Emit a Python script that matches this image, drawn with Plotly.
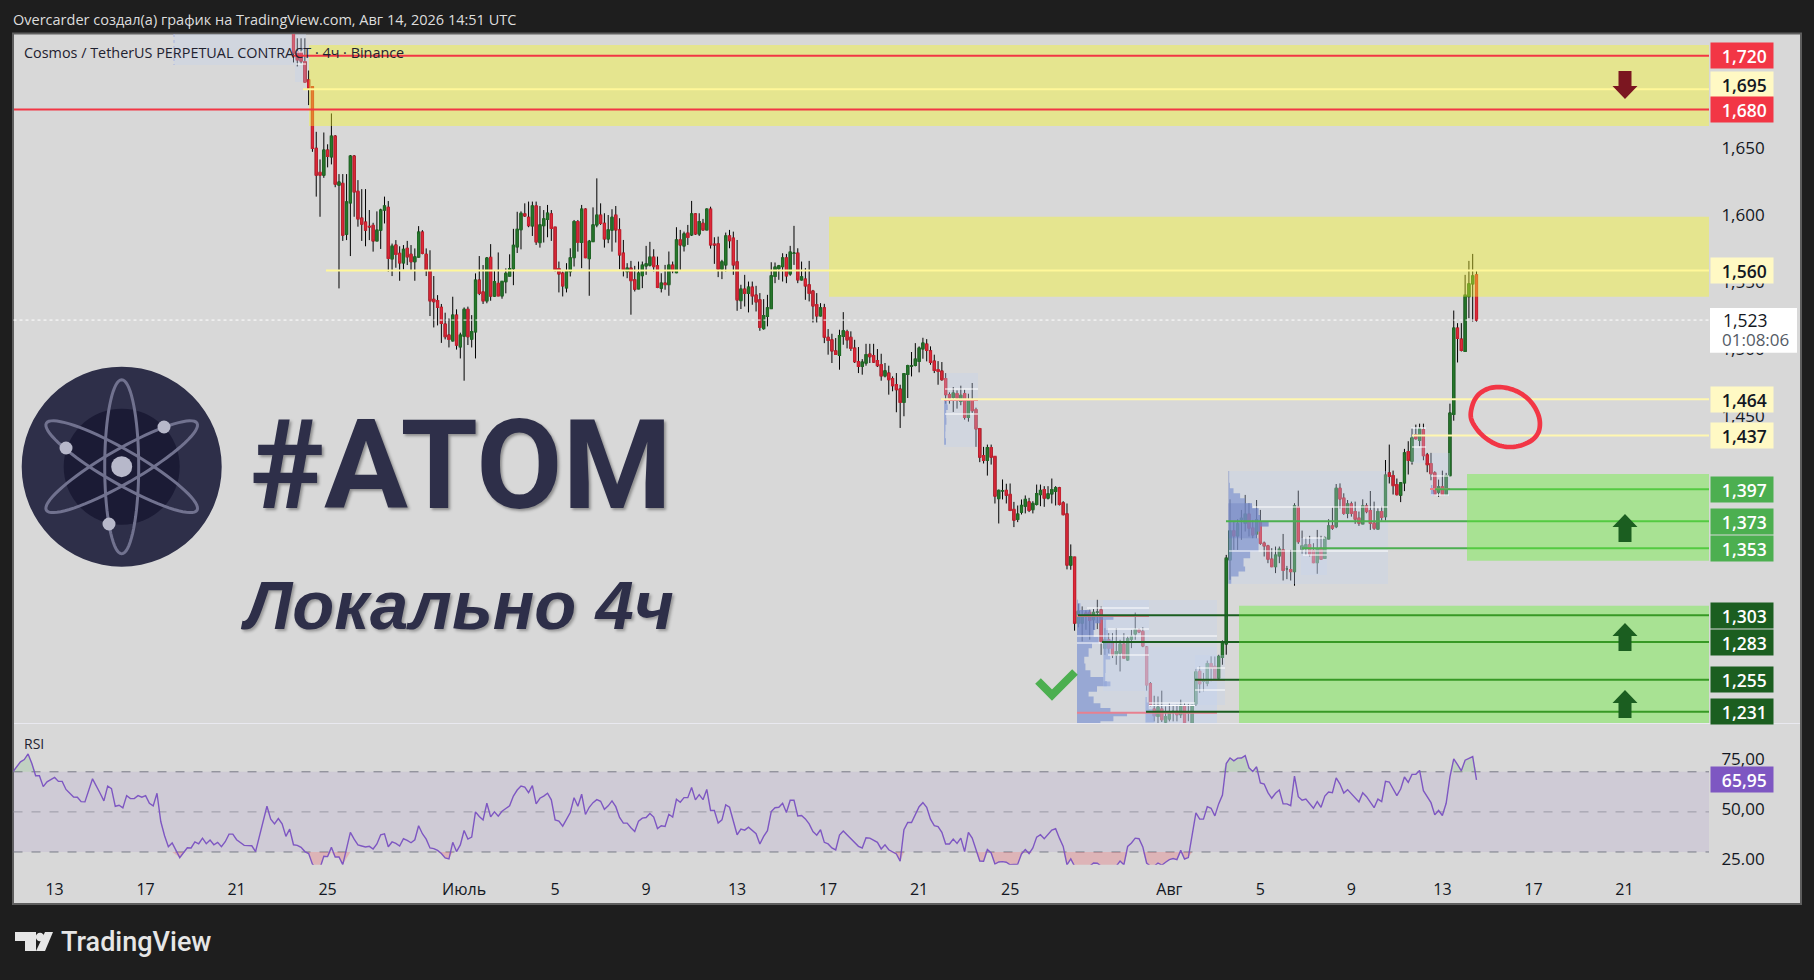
import math
import plotly.graph_objects as go

# ---------- DATA ----------
first_bar = 63          # 4h bars since 13 June (bar 63 = 23 June 12:00)
opens = [
 1.745,1.723,1.7225,1.7155,1.702,1.6969,1.651,1.633,1.631,1.6497,
 1.6447,1.66,1.6236,1.6248,1.587,1.6104,1.6452,1.6189,1.599,1.596,
 1.5928,1.5935,1.582,1.59,1.605,1.607,1.5687,1.5789,1.5727,1.5657,
 1.5764,1.572,1.5665,1.57,1.5886,1.572,1.5598,1.5384,1.5374,1.5325,
 1.52,1.5118,1.5076,1.5267,1.5031,1.511,1.531,1.5088,1.5143,1.5528,
 1.5439,1.5374,1.5697,1.5409,1.5503,1.5411,1.5516,1.5558,1.5613,1.5776,
 1.5904,1.6021,1.5996,1.5932,1.608,1.5808,1.5934,1.5981,1.6021,1.5922,
 1.5614,1.5579,1.547,1.5592,1.5696,1.5964,1.581,1.6056,1.5689,1.5815,
 1.5939,1.6011,1.5951,1.5835,1.59,1.6011,1.5902,1.5728,1.5592,1.5617,
 1.553,1.5463,1.5562,1.5634,1.5639,1.5698,1.5634,1.5468,1.5505,1.5495,
 1.5639,1.5584,1.5827,1.5783,1.5877,1.5865,1.6021,1.5872,1.5951,1.5902,
 1.6056,1.5795,1.5798,1.5609,1.5641,1.5857,1.584,1.5664,1.5376,1.546,
 1.543,1.5475,1.5416,1.5381,1.5167,1.5257,1.5316,1.5555,1.5614,1.5629,
 1.5693,1.5574,1.5727,1.5728,1.553,1.5535,1.5493,1.5445,1.5344,1.5262,
 1.5321,1.5101,1.5083,1.5,1.4967,1.5108,1.5143,1.5101,1.5021,1.492,
 1.4885,1.491,1.4976,1.4964,1.4927,1.4897,1.4815,1.4835,1.4793,1.4748,
 1.4716,1.4617,1.4825,1.4887,1.4892,1.4922,1.5016,1.5051,1.5001,1.4924,
 1.486,1.485,1.4793,1.4674,1.4654,1.4681,1.4624,1.4681,1.4505,1.4637,
 1.4562,1.4421,1.422,1.4185,1.428,1.4213,1.39,1.3957,1.396,1.393,
 1.3818,1.3744,1.3798,1.3843,1.3875,1.3818,1.3856,1.393,1.3967,1.3903,
 1.3935,1.3954,1.398,1.3868,1.3786,1.3404,1.3463,1.2972,1.2972,1.3046,
 1.3051,1.2997,1.3053,1.307,1.2785,1.2847,1.2822,1.2735,1.2748,1.2815,
 1.2698,1.2852,1.2892,1.2921,1.2909,1.2792,1.252,1.2331,1.2277,1.2331,
 1.2234,1.2257,1.2314,1.2314,1.2289,1.2356,1.231,1.2227,1.2369,1.2612,
 1.2538,1.2525,1.2669,1.2649,1.2562,1.2716,1.2816,1.3443,1.3659,1.3622,
 1.3745,1.3716,1.3783,1.3679,1.3636,1.3728,1.3567,1.3547,1.3448,1.3393,
 1.3473,1.3517,1.3376,1.3369,1.3356,1.3835,1.3522,1.353,1.3555,1.3513,
 1.3423,1.353,1.3455,1.3599,1.3696,1.3691,1.3976,1.3902,1.379,1.386,
 1.3803,1.3753,1.3711,1.3845,1.381,1.3716,1.3673,1.3803,1.3765,1.4091,
 1.4071,1.4004,1.3925,1.4017,1.425,1.4178,1.4376,1.4334,1.4413,1.4225,
 1.416,1.4091,1.3947,1.3987,1.393,1.4071,1.4527,1.517,1.5088,1.4996,
 1.5405,1.55,1.5567]
highs = [
 1.76,1.733,1.733,1.733,1.709,1.6974,1.6633,1.6427,1.6628,1.654,
 1.677,1.6609,1.6318,1.6318,1.6318,1.646,1.646,1.6273,1.6206,1.6206,
 1.605,1.5955,1.604,1.606,1.615,1.6117,1.58,1.5826,1.578,1.5789,
 1.582,1.5789,1.5764,1.593,1.59,1.5764,1.575,1.5558,1.5416,1.535,
 1.5285,1.5242,1.5404,1.531,1.5136,1.5324,1.533,1.5267,1.5578,1.5707,
 1.564,1.57,1.5796,1.56,1.5734,1.5516,1.5615,1.572,1.591,1.6037,
 1.604,1.61,1.6113,1.6113,1.6113,1.608,1.605,1.6088,1.605,1.5922,
 1.5666,1.5592,1.5654,1.5765,1.5976,1.5976,1.6088,1.6063,1.5827,1.607,
 1.6286,1.61,1.6026,1.6013,1.6056,1.608,1.5989,1.5827,1.5654,1.5671,
 1.5634,1.5666,1.5666,1.5783,1.5813,1.5758,1.5703,1.5579,1.5641,1.5741,
 1.5666,1.5922,1.5902,1.5889,1.5939,1.6118,1.6026,1.6026,1.5984,1.6063,
 1.6075,1.5847,1.5852,1.5679,1.5882,1.5902,1.5889,1.5827,1.5493,1.5567,
 1.5517,1.5517,1.5485,1.5431,1.5386,1.5418,1.5661,1.5659,1.5641,1.5728,
 1.5723,1.5783,1.5932,1.5765,1.5666,1.5617,1.5671,1.5455,1.5431,1.5356,
 1.5351,1.5163,1.5128,1.5096,1.5158,1.5289,1.5158,1.5146,1.5083,1.5029,
 1.4939,1.5053,1.5053,1.5053,1.5014,1.4979,1.491,1.489,1.481,1.4835,
 1.4748,1.4835,1.4897,1.4992,1.5058,1.5034,1.5098,1.5088,1.5034,1.4972,
 1.4924,1.4917,1.4835,1.4691,1.4731,1.4706,1.4741,1.4711,1.4681,1.4761,
 1.4577,1.4426,1.4285,1.4302,1.4302,1.4213,1.3967,1.4042,1.401,1.4012,
 1.3875,1.3848,1.3893,1.3923,1.3905,1.388,1.4004,1.4004,1.3992,1.3992,
 1.4049,1.3992,1.3987,1.388,1.3863,1.3558,1.3463,1.3116,1.3096,1.3066,
 1.3071,1.3076,1.3145,1.3095,1.2934,1.2897,1.2897,1.2934,1.2847,1.2897,
 1.2872,1.2921,1.305,1.2934,1.2941,1.2797,1.2532,1.243,1.2425,1.2468,
 1.2351,1.2376,1.2358,1.2363,1.2401,1.2376,1.237,1.2363,1.263,1.2649,
 1.26,1.2692,1.2724,1.2723,1.2735,1.2842,1.348,1.3894,1.3728,1.3746,
 1.3815,1.3927,1.3865,1.3741,1.3889,1.3815,1.3579,1.3555,1.353,1.3542,
 1.3542,1.3636,1.3398,1.3517,1.3865,1.3959,1.3661,1.3609,1.3622,1.3567,
 1.3666,1.3622,1.3617,1.3746,1.3832,1.4008,1.4013,1.3939,1.3889,1.3877,
 1.3877,1.3803,1.3894,1.3865,1.3956,1.3877,1.3827,1.384,1.4187,1.4302,
 1.4108,1.4049,1.4022,1.427,1.4327,1.4426,1.4451,1.4458,1.4458,1.424,
 1.424,1.4103,1.4041,1.4108,1.4091,1.4607,1.5301,1.5207,1.5207,1.5567,
 1.5671,1.5723,1.5596]
lows = [
 1.715,1.712,1.714,1.7006,1.6832,1.6484,1.615,1.6,1.629,1.6368,
 1.639,1.622,1.5466,1.582,1.5826,1.5707,1.6,1.5926,1.582,1.578,
 1.5826,1.574,1.582,1.576,1.595,1.559,1.5558,1.562,1.5523,1.5608,
 1.564,1.5603,1.5523,1.5697,1.572,1.5558,1.526,1.5175,1.519,1.506,
 1.5086,1.5026,1.507,1.501,1.4944,1.4778,1.5044,1.5026,1.4944,1.5416,
 1.535,1.5355,1.5374,1.5404,1.5409,1.5389,1.5429,1.5558,1.549,1.573,
 1.5757,1.6,1.5922,1.5857,1.579,1.577,1.5808,1.5847,1.582,1.5592,
 1.5436,1.5406,1.5436,1.5555,1.5629,1.574,1.5617,1.5691,1.5411,1.5815,
 1.5922,1.5939,1.577,1.5803,1.574,1.5808,1.5609,1.5555,1.5542,1.527,
 1.5443,1.546,1.5468,1.5567,1.5629,1.5592,1.5468,1.5436,1.5456,1.5411,
 1.5579,1.5579,1.5604,1.5741,1.579,1.5857,1.5865,1.5857,1.5897,1.5902,
 1.5763,1.5649,1.555,1.5535,1.5592,1.5765,1.5567,1.5299,1.5312,1.5331,
 1.5287,1.5344,1.5294,1.515,1.5158,1.5183,1.5312,1.5505,1.553,1.5517,
 1.5505,1.556,1.5641,1.5505,1.5525,1.5381,1.5369,1.5212,1.5212,1.5257,
 1.5058,1.4972,1.491,1.4972,1.486,1.5046,1.5019,1.5,1.491,1.4835,
 1.4823,1.489,1.491,1.491,1.488,1.4778,1.4803,1.4674,1.4699,1.4543,
 1.4426,1.4513,1.4649,1.481,1.4885,1.484,1.4942,1.4922,1.4897,1.4835,
 1.4748,1.4778,1.4607,1.4607,1.4545,1.457,1.4595,1.4488,1.4473,1.4538,
 1.4285,1.4171,1.4161,1.4071,1.4153,1.3863,1.3714,1.3893,1.3863,1.3806,
 1.3687,1.3724,1.3781,1.3789,1.3799,1.3789,1.3848,1.3843,1.3838,1.3893,
 1.3863,1.3848,1.3848,1.3774,1.3372,1.3369,1.2915,1.294,1.2835,1.2922,
 1.2848,1.2922,1.2927,1.2735,1.2735,1.2748,1.2711,1.2661,1.2611,1.2711,
 1.2691,1.2785,1.2847,1.2897,1.2792,1.2468,1.2351,1.2239,1.2227,1.2234,
 1.2215,1.2239,1.2239,1.2239,1.2264,1.2177,1.224,1.2177,1.2355,1.2451,
 1.2463,1.2501,1.2538,1.2549,1.2549,1.2661,1.2736,1.3294,1.3517,1.3517,
 1.3592,1.3654,1.3617,1.3604,1.3604,1.3555,1.3468,1.3418,1.3388,1.3344,
 1.3418,1.3289,1.3299,1.3289,1.325,1.3562,1.3488,1.348,1.3468,1.3418,
 1.3339,1.3443,1.3455,1.3597,1.3666,1.3679,1.3827,1.3778,1.3753,1.3765,
 1.3711,1.3696,1.3711,1.379,1.3666,1.3666,1.3671,1.3736,1.3736,1.4012,
 1.393,1.3922,1.3873,1.3955,1.4079,1.4153,1.4339,1.4289,1.4185,1.4096,
 1.4036,1.393,1.3913,1.393,1.393,1.4066,1.448,1.4914,1.4996,1.4996,
 1.5244,1.5219,1.5219]
closes = [
 1.722,1.717,1.716,1.7006,1.6956,1.651,1.631,1.631,1.6497,1.645,
 1.66,1.6243,1.6258,1.5863,1.611,1.6452,1.6186,1.5985,1.5945,1.59,
 1.5925,1.582,1.59,1.605,1.608,1.569,1.578,1.572,1.5657,1.5757,
 1.5702,1.5665,1.57,1.5886,1.5727,1.56,1.5374,1.5367,1.5325,1.5205,
 1.5106,1.5086,1.5267,1.5044,1.5118,1.531,1.5106,1.5143,1.5528,1.5429,
 1.5374,1.5692,1.5409,1.5516,1.5411,1.5518,1.5578,1.5613,1.5787,1.5906,
 1.6025,1.6006,1.5934,1.608,1.5813,1.5939,1.5984,1.6026,1.5914,1.5604,
 1.5574,1.5485,1.5599,1.5693,1.5964,1.581,1.6056,1.5696,1.5817,1.5939,
 1.6011,1.5951,1.5835,1.5902,1.5996,1.5902,1.5716,1.5604,1.5617,1.5525,
 1.546,1.5579,1.5639,1.5649,1.5698,1.5629,1.5473,1.5505,1.5495,1.5639,
 1.5599,1.5827,1.579,1.5872,1.5847,1.6021,1.5872,1.5964,1.5902,1.6056,
 1.579,1.579,1.5609,1.5664,1.5857,1.5822,1.5641,1.5381,1.546,1.543,
 1.5475,1.5411,1.5366,1.5175,1.5262,1.5321,1.556,1.5624,1.5634,1.5693,
 1.556,1.5736,1.5729,1.553,1.5552,1.5485,1.543,1.5336,1.5262,1.5321,
 1.5103,1.5078,1.5,1.4975,1.5113,1.515,1.5083,1.5019,1.492,1.4885,
 1.4917,1.4972,1.4957,1.4917,1.489,1.4815,1.4852,1.4786,1.4741,1.4711,
 1.4617,1.483,1.489,1.4888,1.4939,1.5021,1.5058,1.5004,1.4915,1.4855,
 1.4848,1.4786,1.4674,1.4649,1.4686,1.4649,1.4669,1.4505,1.4637,1.4555,
 1.4419,1.4208,1.4185,1.428,1.4208,1.3918,1.396,1.3958,1.3925,1.3811,
 1.3739,1.3784,1.3848,1.3893,1.3811,1.3863,1.3937,1.396,1.3903,1.3935,
 1.3967,1.398,1.3856,1.3781,1.3404,1.3466,1.2972,1.3059,1.3021,1.3026,
 1.2992,1.3051,1.3054,1.2835,1.2847,1.2785,1.2735,1.2758,1.2815,1.2711,
 1.2854,1.2872,1.2921,1.2906,1.2802,1.2512,1.2363,1.2282,1.2346,1.2252,
 1.2274,1.2301,1.2314,1.2289,1.2358,1.2227,1.2305,1.2358,1.2607,1.252,
 1.255,1.2669,1.2636,1.2554,1.2723,1.2827,1.3455,1.3659,1.3622,1.3711,
 1.3752,1.3783,1.3679,1.3629,1.3741,1.3567,1.3547,1.3448,1.3393,1.3478,
 1.3522,1.3364,1.3376,1.3356,1.3845,1.3579,1.3547,1.3555,1.3488,1.3423,
 1.3522,1.3448,1.3604,1.3696,1.3679,1.3976,1.3897,1.379,1.386,1.379,
 1.3746,1.3716,1.3845,1.3803,1.3716,1.3679,1.3803,1.376,1.4075,1.4066,
 1.3997,1.393,1.4017,1.424,1.4185,1.4351,1.4346,1.4418,1.422,1.4153,
 1.4086,1.393,1.3987,1.393,1.4071,1.4537,1.517,1.5093,1.5004,1.5415,
 1.55,1.5559,1.523]

rsi_bars = [-11,-9,-8,-7,-6,-5,-4,-3,-2,0,1,2,3,5,6,7,8,10,12,13,14,15,16,17,18,19,20,21,22,23,24,25,26,27,28,29,30,31,33,34,35,36,37,38,39,40,41,42,43,44,45,46,47,48,49,50,52,53,56,57,58,59,60,61,62,63,64,65,66,67,68,69,70,71,72,73,74,75,76,78,79,80,81,82,83,84,85,86,87,88,89,90,91,92,93,94,95,96,97,98,99,100,101,102,103,104,105,106,107,108,109,110,111,112,113,114,115,116,117,118,119,120,121,122,123,124,125,126,127,128,129,130,131,132,133,134,136,137,138,139,140,141,142,143,144,145,146,147,148,149,150,151,152,153,154,155,156,157,158,159,160,161,162,163,164,165,166,167,168,169,170,171,172,173,174,175,176,177,178,179,180,181,182,183,184,185,186,187,188,189,190,191,192,193,194,195,196,
 197,198,199,200,201,202,203,204,205,206,207,208,209,211,212,213,214,215,217,218,219,220,222,223,224,225,226,228,229,230,231,232,233,234,235,236,237,238,239,240,241,242,243,244,245,246,247,248,249,250,251,252,254,255,256,257,258,259,260,261,263,264,265,266,267,268,269,270,271,272,273,274,275,276,277,278,279,280,281,282,283,284,285,286,287,288,289,290,291,292,293,294,295,296,297,298,299,300,301,302,303,304,305,306,307,308,309,310,311,312,313,314,315,316,317,318,319,320,321,322,323,324,325,326,327,328,329,330,331,332,333,334,335,336,337,338,339,340,341,342,344,345,346,348,349,350,351,352,354,355,356,357,358,359,360,361,363,364,365,366,367,368,369,370,371,372,373,374,375]
rsi_vals = [70.0,75.0,76.1,78.9,74.1,68.0,68.0,62.6,65.0,67.2,65.2,65.2,61.2,57.4,57.3,55.1,55.0,66.5,59.3,55.5,62.9,61.6,52.8,53.3,52.0,58.1,56.6,56.6,58.1,57.3,58.1,54.3,53.0,59.3,45.2,38.1,32.6,34.5,27.2,29.8,32.1,32.0,35.0,34.1,36.9,34.1,36.0,33.6,34.8,32.6,35.1,38.9,38.9,36.1,34.5,33.3,33.1,30.2,52.8,46.4,44.0,46.7,44.0,37.8,41.4,33.6,33.3,32.3,30.2,29.2,23.9,22.0,22.0,27.9,27.7,32.3,27.5,27.5,23.7,39.8,36.4,33.5,33.0,32.5,32.8,31.5,34.0,38.6,39.1,32.6,35.0,34.3,33.0,36.6,35.8,34.6,36.1,43.1,39.1,36.4,32.0,31.7,30.8,29.2,27.0,26.5,34.8,30.2,33.5,40.7,36.4,37.4,50.0,47.7,46.0,54.3,47.5,50.0,47.9,50.3,51.7,53.0,57.9,60.9,62.9,62.4,59.6,63.1,54.0,56.8,57.9,59.3,56.0,46.0,45.4,42.9,49.7,57.1,52.8,58.8,48.7,52.3,54.6,56.1,55.3,51.3,53.0,55.5,52.6,47.2,44.4,44.4,42.1,40.2,45.4,46.9,47.2,49.2,47.4,41.7,43.1,42.7,48.8,47.4,56.3,54.8,57.1,57.1,62.2,56.0,58.6,56.1,61.2,50.7,50.7,44.4,46.0,53.5,52.3,45.2,38.6,41.4,40.9,42.4,40.6,39.1,34.0,37.8,40.6,50.2,52.1,52.3,54.3,49.7,55.8,55.8,48.0,
 48.2,46.5,44.0,40.2,38.4,41.1,34.8,34.0,32.0,31.0,38.4,40.4,38.6,35.0,32.8,32.0,37.1,36.9,34.8,31.5,33.6,31.1,29.0,25.4,41.1,44.7,44.7,52.6,54.6,52.3,46.4,43.1,42.7,39.8,34.0,34.0,36.4,34.3,36.9,30.2,39.8,36.9,31.7,25.5,25.4,31.2,29.5,24.0,25.0,25.2,24.9,23.6,23.9,29.0,31.2,29.2,32.0,37.4,38.6,36.6,40.9,41.6,36.9,32.8,23.6,26.5,22.9,22.5,22.0,22.5,22.9,24.5,24.4,22.9,22.0,21.5,22.5,22.9,25.5,23.6,32.8,34.5,36.9,36.6,32.5,24.5,22.9,22.9,24.5,23.4,24.9,26.2,26.7,26.2,30.8,26.5,27.2,37.8,49.5,46.4,46.4,52.6,51.8,48.0,54.0,58.4,74.1,76.9,75.5,76.8,76.9,78.1,72.0,70.2,72.5,64.5,63.9,59.6,56.8,59.3,60.9,54.0,54.0,53.1,67.9,57.6,55.8,56.4,54.3,51.8,55.1,52.3,57.9,59.9,59.6,67.0,63.9,59.4,61.1,58.9,55.0,59.6,57.6,52.1,56.4,55.1,65.2,64.9,58.1,61.4,67.4,64.7,68.7,68.8,70.7,60.6,54.6,48.5,50.7,48.2,54.3,67.5,76.4,73.6,70.5,75.8,76.9,77.6,65.95]

# tick labels (day positions counted from 13 June)
time_tick_days = [0,4,8,12,18,22,26,30,34,38,42,49,53,57,61,65,69]
time_tick_text = ["13","17","21","25","Июль","5","9","13","17","21","25","Авг","5","9","13","17","21"]
price_ticks = [1.25,1.30,1.35,1.40,1.45,1.50,1.55,1.60,1.65,1.70]
price_tick_text = ["1,250","1,300","1,350","1,400","1,450","1,500","1,550","1,600","1,650","1,700"]
rsi_ticks = [25,50,75]
rsi_tick_text = ["25,00","50,00","75,00"]

# horizontal levels: value, left edge px, line colour, label bg, label text colour
RED,PALE,GRN,DGR = "#f23645","#fff9c4","#4caf50","#1b5e20"
levels_top = [(1.720,292,RED,RED,"white"),(1.695,303,"#fff799",PALE,"#131722"),(1.680,14,RED,RED,"white"),
              (1.560,326,"#fff799",PALE,"#131722"),(1.464,941,"#fff7b0",PALE,"#131722"),(1.437,1412,"#fff7b0",PALE,"#131722")]
levels_under = [(1.397,1435,GRN,GRN,"white"),(1.373,1226,GRN,GRN,"white"),(1.353,1302,GRN,GRN,"white"),
                (1.303,1078,DGR,DGR,"white"),(1.283,1102,DGR,DGR,"white"),(1.255,1195,DGR,DGR,"white"),(1.231,1146,DGR,DGR,"white")]
zones = [(1.728,1.6676,309,"rgba(251,251,36,.4)"),(1.600,1.5404,829,"rgba(251,251,36,.4)"),
         (1.4083,1.3437,1467,"rgba(98,243,44,.4)"),(1.3100,1.2227,1239,"rgba(98,243,44,.4)")]

# volume profiles: base day, prices, widths in days
vpE_base, vpE_price = 44.94, [1.3145,1.312,1.307,1.302,1.2996,1.297,1.292,1.287,1.282,1.2785,1.272,1.267,1.262,1.257,1.2537,1.25,1.246,1.2425,1.2375,1.2339,1.2306,1.2277,1.224,1.2227]
vpE_width = [.04,.15,.59,1.6,1.03,.8,.73,.95,.66,.51,.32,.37,.59,1.17,1.47,.88,.51,.73,1.03,1.47,2.2,1.6,1.03,.88]
vpC_base, vpC_price = 51.6, [1.4105,1.4018,1.3976,1.3939,1.3902,1.3865,1.3827,1.3778,1.3728,1.3691,1.3654,1.3604,1.3555,1.3505,1.3455,1.3393,1.3356,1.3319,1.3264]
vpC_width = [.03,.06,.22,.51,.73,1.03,1.32,1.39,1.76,1.39,1.25,1.32,1.32,.95,.66,.73,.44,.12,.07]
vpB_base, vpB_price = 39.1, [1.4635,1.4600,1.4560,1.4500,1.4450,1.4400,1.4350,1.4300]
vpB_width = [.12,.16,.09,.1,.06,.05,.08,.07]
vpF_base, vpF_price = 46.1, [1.300,1.292,1.2847,1.278,1.270,1.260,1.2540,1.2500]
vpF_width = [.12,.2,.42,.3,.1,.08,.15,.1]
vpG_base, vpG_price = 47.95, [1.2420,1.2380,1.2330,1.2306,1.2270,1.2230]
vpG_width = [.06,.14,.32,.44,.4,.32]
vpJ_base, vpJ_price = 60.5, [1.4000,1.3975,1.3950,1.3920]
vpJ_width = [.06,.1,.14,.06]

# ---------- LAYOUT HELPERS ----------
W, H = 1814, 980
PL, PR = 13.5, 1709
MT, MB, RT, RB = 34, 723, 724, 864.7
px = lambda x: x / W
py = lambda y: 1 - y / H
days = [(first_bar + i) / 6 for i in range(len(opens))]
rsi_x = [b / 6 for b in rsi_bars]

fig = go.Figure()
fig.add_trace(go.Candlestick(x=days, open=opens, high=highs, low=lows, close=closes, xaxis="x", yaxis="y",
    increasing=dict(line=dict(color="#000000", width=1), fillcolor="#000000"),
    decreasing=dict(line=dict(color="#000000", width=1), fillcolor="#000000"), whiskerwidth=0, hoverinfo="skip"))
fig.add_trace(go.Candlestick(x=days, open=opens, close=closes,
    high=[max(a, b) for a, b in zip(opens, closes)], low=[min(a, b) for a, b in zip(opens, closes)], xaxis="x", yaxis="y",
    increasing=dict(line=dict(color="#1f6b25", width=1.3), fillcolor="#2e7d32"),
    decreasing=dict(line=dict(color="#c8202f", width=1.3), fillcolor="#e53040"), whiskerwidth=0, hoverinfo="skip"))

def profile(base, prices, widths, colour):
    xs, ys = [base], [prices[0]]
    for i, (p, w) in enumerate(zip(prices, widths)):
        nxt = prices[i + 1] if i + 1 < len(prices) else p
        xs += [base + w, base + w]
        ys += [p, nxt]
    xs.append(base); ys.append(prices[-1])
    fig.add_trace(go.Scatter(x=xs, y=ys, mode="lines", line=dict(width=0), fill="toself",
                             fillcolor=colour, xaxis="x", yaxis="y", hoverinfo="skip"))

VP = "rgba(88,112,190,.65)"
for b, p, w in [(vpE_base, vpE_price, vpE_width), (vpC_base, vpC_price, vpC_width), (vpB_base, vpB_price, vpB_width),
                (vpF_base, vpF_price, vpF_width), (vpG_base, vpG_price, vpG_width), (vpJ_base, vpJ_price, vpJ_width)]:
    profile(b, p, w, VP)
profile(vpE_base, vpE_price[2:8], vpE_width[2:8], "rgba(60,80,170,.35)")
profile(vpC_base, vpC_price[5:12], vpC_width[5:12], "rgba(60,80,170,.35)")

# RSI
fig.add_trace(go.Scatter(x=rsi_x, y=[70]*len(rsi_x), mode="lines", line=dict(width=0), xaxis="x2", yaxis="y2", hoverinfo="skip"))
fig.add_trace(go.Scatter(x=rsi_x, y=[max(v, 70) for v in rsi_vals], mode="lines", line=dict(width=0), fill="tonexty",
                         fillcolor="rgba(76,175,80,.16)", xaxis="x2", yaxis="y2", hoverinfo="skip"))
fig.add_trace(go.Scatter(x=rsi_x, y=[30]*len(rsi_x), mode="lines", line=dict(width=0), xaxis="x2", yaxis="y2", hoverinfo="skip"))
fig.add_trace(go.Scatter(x=rsi_x, y=[min(v, 30) for v in rsi_vals], mode="lines", line=dict(width=0), fill="tonexty",
                         fillcolor="rgba(242,54,69,.22)", xaxis="x2", yaxis="y2", hoverinfo="skip"))
fig.add_trace(go.Scatter(x=rsi_x, y=rsi_vals, mode="lines", line=dict(color="#7e57c2", width=1.4), xaxis="x2", yaxis="y2", hoverinfo="skip"))

shapes = []
def rect_px(x0, y0, x1, y1, fill, layer="above", line=None):
    shapes.append(dict(type="rect", xref="paper", yref="paper", x0=px(x0), x1=px(x1), y0=py(y0), y1=py(y1),
                       fillcolor=fill, line=line or dict(width=0), layer=layer))
def line_px(x0, y0, x1, y1, color, width=1, dash="solid", layer="above"):
    shapes.append(dict(type="line", xref="paper", yref="paper", x0=px(x0), x1=px(x1), y0=py(y0), y1=py(y1),
                       line=dict(color=color, width=width, dash=dash), layer=layer))
def path_px(pts, fill=None, color=None, width=0, close=True, layer="above"):
    d = "M " + " L ".join(f"{px(x):.5f} {py(y):.5f}" for x, y in pts) + (" Z" if close else "")
    shapes.append(dict(type="path", xref="paper", yref="paper", path=d, fillcolor=fill or "rgba(0,0,0,0)",
                       line=dict(color=color or "rgba(0,0,0,0)", width=width), layer=layer))
def level_line(v, x0, color, width=2):
    shapes.append(dict(type="line", xref="paper", yref="y", x0=px(x0), x1=px(PR), y0=v, y1=v,
                       line=dict(color=color, width=width), layer="above"))
def circle_px(cx, cy, r, fill):
    shapes.append(dict(type="circle", xref="paper", yref="paper", x0=px(cx-r), x1=px(cx+r), y0=py(cy-r), y1=py(cy+r),
                       fillcolor=fill, line=dict(width=0), layer="above"))

# chart frame, panes
rect_px(13, 33.5, 1801, 904, "#d8d8d8", layer="below", line=dict(color="#5e5e5e", width=2))
line_px(14, MB + .5, 1800, MB + .5, "#e9e9f0", 1)

# RSI band and levels
shapes.append(dict(type="rect", xref="paper", yref="y2", x0=px(PL), x1=px(PR), y0=30, y1=70,
                   fillcolor="rgba(126,87,194,.1)", line=dict(width=0), layer="below"))
for v, c in [(70, "#787b86"), (50, "#9a9aa5"), (30, "#787b86")]:
    shapes.append(dict(type="line", xref="paper", yref="y2", x0=px(PL), x1=px(PR), y0=v, y1=v,
                       line=dict(color=c, width=1, dash="dash"), layer="below"))

# volume-profile boxes
BOX = "rgba(197,213,240,.32)"
for b in [(174,34,295,65),(295,34,306,82),(944,373,978,447),(1229,471,1388,584),(1301,538,1327,575),
          (1077,600,1217,723),(1103,600,1149,691),(1145,647,1217,723),(1195,655,1225,705),(1411,427,1426,463),(1430,453,1450,496)]:
    rect_px(*b, BOX)
line_px(174, 34, 174, 65, "#a8b2e0", 1, "dot")
for x0, x1, y in [(296,303,52),(296,306,64),(945,978,389),(945,978,414),(1253,1388,507),(1229,1388,551),(1303,1325,538),(1303,1327,555),
                  (1087,1149,608),(1077,1217,636),(1077,1103,643),(1108,1149,629),(1108,1149,655),(1197,1225,668),(1195,1225,690),
                  (1149,1195,703),(1149,1195,705.5),(1411,1426,428),(1412,1426,447),(1431,1449,476),(1431,1449,495)]:
    line_px(x0, y, x1, y, "white", 1)
for x0, x1, y in [(1077,1217,712.7),(1077,1149,616),(1195,1225,680),(944,978,400),(1430,1450,489)]:
    line_px(x0, y, x1, y, "#e8808f", 2)

# levels under the green zones, then zones, then the others on top
for v, x0, c, _, _ in levels_under:
    level_line(v, x0, c)
for top, bot, x0, c in zones:
    shapes.append(dict(type="rect", xref="paper", yref="y", x0=px(x0), x1=px(PR), y0=bot, y1=top,
                       fillcolor=c, line=dict(width=0), layer="above"))
for v, x0, c, _, _ in levels_top:
    level_line(v, x0, c)

# last-price dotted line
shapes.append(dict(type="line", xref="paper", yref="y", x0=px(PL), x1=px(PR), y0=closes[-1], y1=closes[-1],
                   line=dict(color="#ffffff", width=1, dash="dot"), layer="above"))

# arrows
def arrow(cx, top, bottom, up, colour):
    hw, sw, hh = 12.5, 6.5, 13
    if up:
        pts = [(cx, top), (cx+hw, top+hh), (cx+sw, top+hh), (cx+sw, bottom), (cx-sw, bottom), (cx-sw, top+hh), (cx-hw, top+hh)]
    else:
        pts = [(cx, bottom), (cx+hw, bottom-hh), (cx+sw, bottom-hh), (cx+sw, top), (cx-sw, top), (cx-sw, bottom-hh), (cx-hw, bottom-hh)]
    path_px(pts, fill=colour)
arrow(1625, 71, 99, False, "#7b1620")
arrow(1625, 514, 542, True, DGR)
arrow(1625, 623, 651, True, DGR)
arrow(1625, 690, 718, True, DGR)

# check mark
path_px([(1038,681),(1052,695),(1075,672)], color="#4caf50", width=8, close=False)

# red hand-drawn ring
ring = [(1470,413),(1475,397),(1487,388),(1503,386.5),(1520,392),(1533,403),(1541,420),(1538,437),(1520,447),(1500,447),(1483,437),(1472,423)]
for _ in range(3):
    nxt = []
    for i in range(len(ring)):
        a, b = ring[i], ring[(i+1) % len(ring)]
        nxt += [(.75*a[0]+.25*b[0], .75*a[1]+.25*b[1]), (.25*a[0]+.75*b[0], .25*a[1]+.75*b[1])]
    ring = nxt
path_px(ring, color=RED, width=4.7)

# logo
LCX, LCY = 121.7, 466.7
circle_px(LCX, LCY, 100, "#2e2f49")
circle_px(LCX, LCY, 58, "#1b1b35")
for ang in (0, 60, -60):
    t = math.radians(ang)
    pts = []
    for k in range(72):
        a = 2 * math.pi * k / 72
        ex, ey = 17 * math.cos(a), 87 * math.sin(a)
        pts.append((LCX + ex * math.cos(t) - ey * math.sin(t), LCY + ex * math.sin(t) + ey * math.cos(t)))
    path_px(pts, color="#71728f", width=3)
circle_px(LCX, LCY, 10.5, "#b7b8ca")
for cx, cy in [(164,427),(66,448),(109,524)]:
    circle_px(cx, cy, 6.5, "#b7b8ca")

# TradingView logo
path_px([(15,932),(36,932),(36,951),(25,951),(25,941),(15,941)], fill="#e6e6e6")
circle_px(40, 937, 4.2, "#e6e6e6")
path_px([(45,932),(53,932),(45,951),(36,951)], fill="#e6e6e6")

# clip the bottom RSI tick label
rect_px(1712, 865, 1790, 871, "#d8d8d8")

annotations = []
def label(v, bg, fg, yref="y", text=None, yshift=0):
    annotations.append(dict(text="&nbsp;" + (text or f"{v:.3f}".replace(".", ",")), xref="paper", yref=yref, x=px(1710), y=v, yshift=yshift,
                            xanchor="left", yanchor="middle", showarrow=False, width=62, height=25, bgcolor=bg, borderpad=0, align="center",
                            font=dict(family="Open Sans", size=17.5, color=fg, weight=600)))
for v, _, _, bg, fg in levels_top + levels_under:
    label(v, bg, fg, yshift=5 if v == 1.695 else 0)
label(65.95, "#7e57c2", "white", yref="y2", text="65,95")

rect_px(1710, 308, 1797, 352.7, "white")
def txt(x, y, s, size, color, family="Open Sans", anchor="left", **font):
    annotations.append(dict(text=s, xref="paper", yref="paper", x=px(x), y=py(y), xanchor=anchor, yanchor="middle",
                            showarrow=False, font=dict(family=family, size=size, color=color, **font)))
txt(1721, 320, "1,523", 17.5, "#131722", weight=500)
txt(1720, 339, "01:08:06", 17, "#555b66")
txt(11, 19, "Overcarder создал(а) график на TradingView.com, Авг 14, 2026 14:51 UTC", 14.5, "#dddddd")
txt(22, 53, "Cosmos / TetherUS PERPETUAL CONTRACT · 4ч · Binance", 14.4, "#1f2230")
txt(22, 743, "RSI", 14, "#1f2230")
txt(59, 942, "TradingView", 27, "#e6e6e6", family="Roboto", weight=500)
txt(248, 465, "#ATOM", 125, "#2e2f49", family="Roboto", weight="bold", shadow="2px 2px 3px rgba(0,0,0,.35)")
txt(238, 605, "Локально 4ч", 68.8, "#2e2f49", family="Liberation Sans", weight="bold", style="italic", shadow="2px 2px 3px rgba(0,0,0,.3)")

tick_font = dict(family="Open Sans", size=17, color="#131722", weight=500)
fig.update_layout(
    width=W, height=H, margin=dict(l=0, r=0, t=0, b=0, autoexpand=False), autosize=False, showlegend=False,
    paper_bgcolor="#1e1e1e", plot_bgcolor="rgba(0,0,0,0)", hovermode=False, boxgap=0.25,
    xaxis=dict(domain=[px(PL), px(PR)], range=[-1.807, 72.72], anchor="y", showticklabels=False, showgrid=False, zeroline=False,
               rangeslider=dict(visible=False), ticks="", automargin=False),
    xaxis2=dict(domain=[px(PL), px(PR)], matches="x", anchor="y2", tickmode="array", tickvals=time_tick_days, ticktext=time_tick_text,
                showgrid=False, zeroline=False, ticks="outside", ticklen=10, tickcolor="rgba(0,0,0,0)", automargin=False,
                tickfont=dict(family="Open Sans", size=16, color="#131722", weight=500), rangeslider=dict(visible=False)),
    yaxis=dict(domain=[py(MB), py(MT)], range=[1.2227, 1.7362], side="right", anchor="x", tickmode="array", tickvals=price_ticks, automargin=False,
               ticktext=price_tick_text, showgrid=False, zeroline=False, ticks="outside", ticklen=8, tickcolor="rgba(0,0,0,0)", tickfont=tick_font, ticklabelshift=-2),
    yaxis2=dict(domain=[py(RB), py(RT)], range=[23.65, 93.85], side="right", anchor="x2", tickmode="array", tickvals=rsi_ticks, automargin=False,
                ticktext=rsi_tick_text, showgrid=False, zeroline=False, ticks="outside", ticklen=8, tickcolor="rgba(0,0,0,0)", tickfont=tick_font, ticklabelshift=-3),
    shapes=shapes, annotations=annotations,
)
fig.write_html("out.html", config={"responsive": False, "displayModeBar": False},
               post_script="document.body.style.margin='0';document.body.style.background='#1e1e1e';document.documentElement.style.overflow='hidden';")
